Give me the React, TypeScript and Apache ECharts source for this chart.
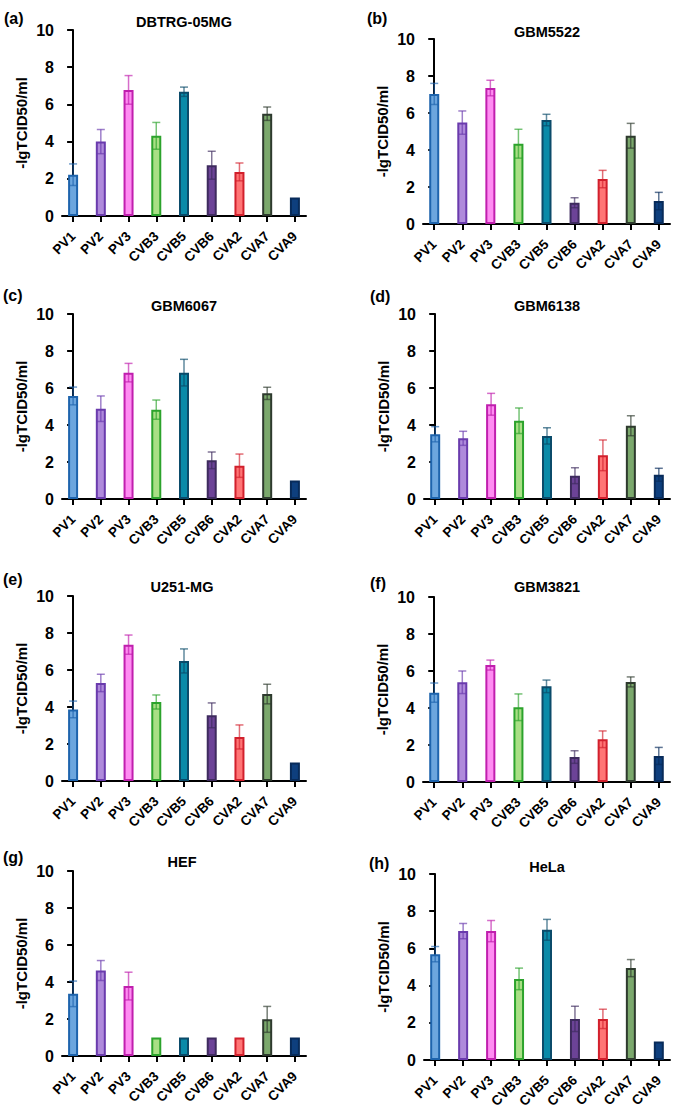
import React, { useEffect, useRef } from "react";
import * as echarts from "echarts";

const categories = ["PV1", "PV2", "PV3", "CVB3", "CVB5", "CVB6", "CVA2", "CVA7", "CVA9"];
const panelLabels = ["(a)", "(b)", "(c)", "(d)", "(e)", "(f)", "(g)", "(h)"];
const panelTitles = ["DBTRG-05MG", "GBM5522", "GBM6067", "GBM6138", "U251-MG", "GBM3821", "HEF", "HeLa"];
const yTicks = [0, 2, 4, 6, 8, 10];

const dbtrgMean = [2.22, 4.0, 6.78, 4.31, 6.68, 2.73, 2.37, 5.5, 1.0];
const dbtrgErr = [0.58, 0.65, 0.77, 0.72, 0.25, 0.75, 0.48, 0.36, 0];
const gbm5522Mean = [7.03, 5.48, 7.35, 4.34, 5.62, 1.15, 2.43, 4.77, 1.24];
const gbm5522Err = [0.57, 0.63, 0.42, 0.78, 0.31, 0.27, 0.47, 0.67, 0.47];
const gbm6067Mean = [5.57, 4.88, 6.83, 4.83, 6.83, 2.09, 1.8, 5.71, 1.0];
const gbm6067Err = [0.48, 0.69, 0.5, 0.52, 0.72, 0.45, 0.63, 0.33, 0];
const gbm6138Mean = [3.5, 3.28, 5.12, 4.23, 3.41, 1.26, 2.36, 3.96, 1.31];
const gbm6138Err = [0.41, 0.38, 0.59, 0.69, 0.44, 0.43, 0.83, 0.54, 0.35];
const u251Mean = [3.87, 5.3, 7.37, 4.27, 6.49, 3.55, 2.38, 4.7, 1.0];
const u251Err = [0.45, 0.47, 0.52, 0.38, 0.65, 0.67, 0.65, 0.53, 0];
const gbm3821Mean = [4.83, 5.39, 6.32, 4.04, 5.17, 1.35, 2.31, 5.41, 1.41];
const gbm3821Err = [0.52, 0.61, 0.27, 0.72, 0.34, 0.34, 0.45, 0.27, 0.46];
const hefMean = [3.36, 4.62, 3.78, 1.0, 1.0, 1.0, 1.0, 1.98, 1.0];
const hefErr = [0.69, 0.54, 0.75, 0, 0, 0, 0, 0.7, 0];
const helaMean = [5.69, 6.93, 6.93, 4.36, 7.0, 2.21, 2.21, 4.94, 1.0];
const helaErr = [0.41, 0.41, 0.57, 0.58, 0.56, 0.68, 0.52, 0.46, 0];

const allMeans = [dbtrgMean, gbm5522Mean, gbm6067Mean, gbm6138Mean, u251Mean, gbm3821Mean, hefMean, helaMean];
const allErrs = [dbtrgErr, gbm5522Err, gbm6067Err, gbm6138Err, u251Err, gbm3821Err, hefErr, helaErr];

const fills = ["#6CA6DE", "#AF8ADB", "#FF8CF2", "#A9DF85", "#0A8AA8", "#6C4397", "#FF7575", "#7BA86C", "#0E3F7E"];
const borders = ["#1E64AD", "#6A3BAD", "#C01FAE", "#2CA32C", "#0B4B6A", "#3E2B5E", "#D2202C", "#2E3A2E", "#082B5A"];

// layout: [gridLeft, gridTop, gridHeight, width, labelX, labelY, titleX, titleY]
const grids = [
  [62, 30, 186, 244, 4, 18, 184, 22],
  [423, 39, 185, 247, 367, 18, 547, 32],
  [62, 314, 185, 244, 3, 295, 184, 306],
  [424, 314, 185, 246, 370, 296, 547, 306],
  [62, 596, 185, 244, 3, 579, 182, 587],
  [423, 597, 185, 247, 370, 583, 547, 587],
  [62, 871, 185, 244, 3, 857, 182, 862],
  [424, 874, 186, 246, 369, 863, 547, 867],
];

const FONT = "'Liberation Sans', Arial, Helvetica, sans-serif";

export default function App() {
  const ref = useRef<HTMLDivElement>(null);
  useEffect(() => {
    if (!ref.current) return;
    const chart = echarts.init(ref.current, null, { renderer: "svg" });
    const gridOpts: any[] = [];
    const xAxes: any[] = [];
    const yAxes: any[] = [];
    const series: any[] = [];
    const graphics: any[] = [];
    grids.forEach((g, p) => {
      const [left, top, height, width, lx, ly, tx, ty] = g;
      gridOpts.push({ left, top, width, height, containLabel: false, outerBoundsMode: "none" });
      xAxes.push({
        type: "value",
        gridIndex: p,
        min: -0.4,
        max: 8.4,
        splitLine: { show: false },
        axisLine: { show: true, onZero: false, lineStyle: { color: "#000", width: 2 } },
        axisTick: {
          show: true,
          customValues: categories.map((_, i) => i),
          length: 6,
          lineStyle: { color: "#000", width: 2 },
        },
        axisLabel: {
          show: true,
          customValues: categories.map((_, i) => i),
          formatter: (v: number) => categories[Math.round(v)] ?? "",
          rotate: 45,
          margin: 18,
          hideOverlap: false,
          color: "#000",
          fontWeight: "bold",
          fontSize: 13.5,
          fontFamily: FONT,
        },
      });
      yAxes.push({
        type: "value",
        gridIndex: p,
        min: 0,
        max: 10,
        interval: 2,
        name: "-lgTCID50/ml",
        nameLocation: "middle",
        nameGap: 33,
        nameTextStyle: { color: "#000", fontWeight: "bold", fontSize: 15, fontFamily: FONT },
        splitLine: { show: false },
        axisLine: { show: true, lineStyle: { color: "#000", width: 2 } },
        axisTick: { show: true, length: 6, lineStyle: { color: "#000", width: 2 } },
        axisLabel: {
          color: "#000",
          fontWeight: "bold",
          fontSize: 16,
          fontFamily: FONT,
          margin: 8,
          customValues: yTicks,
        },
      });
      const means = allMeans[p];
      const errs = allErrs[p];
      series.push({
        type: "bar",
        xAxisIndex: p,
        yAxisIndex: p,
        barWidth: 10,
        data: means.map((v, i) => ({
          value: [i, v],
          itemStyle: { color: fills[i], borderColor: borders[i], borderWidth: 2 },
        })),
      });
      series.push({
        type: "custom",
        xAxisIndex: p,
        yAxisIndex: p,
        encode: { x: 0, y: 1 },
        z: 5,
        clip: false,
        data: means.map((v, i) => [i, v, errs[i]]),
        renderItem: (params: any, api: any) => {
          const i = api.value(0);
          const m = api.value(1);
          const e = api.value(2);
          if (!e) return { type: "group", children: [] };
          const t = api.coord([i, m + e]);
          const b = api.coord([i, m - e]);
          const half = 4;
          const style = { stroke: borders[params.dataIndex], lineWidth: 1.5, opacity: 0.65 };
          return {
            type: "group",
            children: [
              { type: "line", shape: { x1: t[0], y1: t[1], x2: b[0], y2: b[1] }, style },
              { type: "line", shape: { x1: t[0] - half, y1: t[1], x2: t[0] + half, y2: t[1] }, style },
              { type: "line", shape: { x1: b[0] - half, y1: b[1], x2: b[0] + half, y2: b[1] }, style },
            ],
          };
        },
      });
      graphics.push({
        type: "text",
        x: lx,
        y: ly,
        style: {
          text: panelLabels[p],
          fill: "#000",
          font: `bold 16px ${FONT}`,
          textAlign: "left",
          textVerticalAlign: "middle",
        },
      });
      graphics.push({
        type: "text",
        x: tx,
        y: ty,
        style: {
          text: panelTitles[p],
          fill: "#000",
          font: `bold 14.5px ${FONT}`,
          textAlign: "center",
          textVerticalAlign: "middle",
        },
      });
    });
    chart.setOption({
      animation: false,
      backgroundColor: "#fff",
      grid: gridOpts,
      xAxis: xAxes,
      yAxis: yAxes,
      series,
      graphic: graphics,
    });
    return () => chart.dispose();
  }, []);
  return (
    <div
      ref={ref}
      style={{ position: "absolute", left: 0, top: 0, width: 674, height: 1115 }}
    />
  );
}
